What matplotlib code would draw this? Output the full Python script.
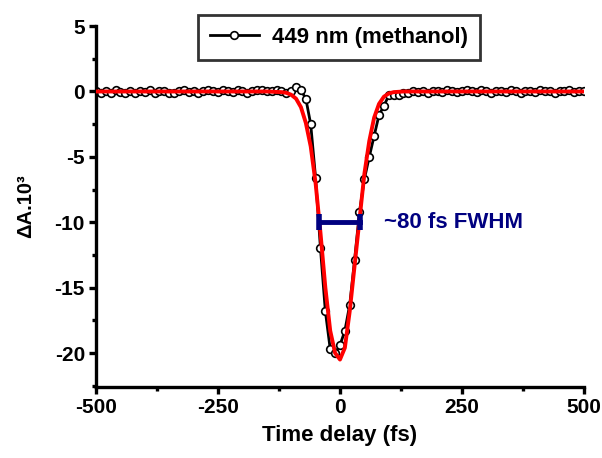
import numpy as np
import matplotlib
matplotlib.use("Agg")
import matplotlib.pyplot as plt
from matplotlib.ticker import MultipleLocator

plt.rcParams['font.family'] = ['Liberation Sans', 'DejaVu Sans']
plt.rcParams['font.weight'] = 'bold'
plt.rcParams['axes.unicode_minus'] = False

# measured transient (10 fs steps)
delay = np.arange(-500, 510, 10)
signal = [0.05, -0.1, 0.0, -0.15, 0.1, -0.05, -0.1, 0.05, -0.15, 0.0,
          -0.05, 0.1, -0.1, 0.0, 0.05, -0.1, -0.15, 0.0, 0.1, -0.05,
          0.05, -0.1, 0.0, 0.15, 0.05, -0.05, 0.1, 0.0, -0.05, 0.1,
          0.05, -0.1, 0.0, 0.1, 0.15, 0.05, 0.0, 0.1, 0.05, -0.1,
          # -100 .. 130 fs
          0.05, 0.35, 0.1, -0.55, -2.5, -6.6, -12.0, -16.8, -19.7, -20.0,
          -19.4, -18.3, -16.3, -12.85, -9.2, -6.7, -5.0, -3.4, -1.8, -1.1,
          -0.3, -0.25, -0.3, -0.15,
          # 140 .. 500 fs
          -0.1, 0.0, -0.05, 0.05, -0.1, 0.0, 0.05, -0.05, 0.1, 0.0,
          -0.05, 0.05, 0.15, 0.0, -0.05, 0.1, 0.05, -0.1, 0.0, 0.05,
          -0.05, 0.1, 0.0, -0.1, 0.05, 0.0, -0.05, 0.1, 0.05, 0.0,
          -0.1, 0.05, 0.0, 0.1, -0.05, 0.0, 0.05]

# fitted curve (red)
fit_t = [-500, -150, -120, -110, -100, -90, -80, -70, -60, -50, -40, -30, -20,
         -10, 0, 10, 20, 30, 40, 50, 60, 70, 80, 90, 100, 110, 130, 500]
fit_y = [0, 0, -0.05, -0.1, -0.25, -0.55, -1.2, -2.4, -4.2, -7.0, -10.8, -15.0,
         -18.3, -20.0, -20.5, -19.6, -16.8, -13.3, -9.8, -6.3, -3.8, -2.0,
         -0.95, -0.4, -0.15, -0.05, 0, 0]

fwhm_t = [-43, 41]
fwhm_y = [-10, -10]

fig = plt.figure(figsize=(6.02, 4.58), dpi=100)
ax = fig.add_axes([0.1595, 0.155, 0.8105, 0.788])

ax.plot(delay, signal, color='black', linewidth=2, marker='o', markersize=5.5,
        markerfacecolor='white', markeredgecolor='black', markeredgewidth=1.2,
        label='449 nm (methanol)', zorder=2)
ax.plot(fit_t, fit_y, color='red', linewidth=2.8, zorder=3)
ax.plot(fwhm_t, fwhm_y, color='#000080', linewidth=3.5, marker='|',
        markersize=11, markeredgewidth=4, zorder=4)
ax.text(90, -10, '~80 fs FWHM', color='#000080', fontsize=16,
        fontweight='bold', va='center', ha='left')

ax.set_xlim(-500, 500)
ax.set_ylim(-22.6, 5)
ax.xaxis.set_major_locator(MultipleLocator(250))
ax.xaxis.set_minor_locator(MultipleLocator(125))
ax.yaxis.set_major_locator(MultipleLocator(5))
ax.yaxis.set_minor_locator(MultipleLocator(2.5))

for s in ['top', 'right']:
    ax.spines[s].set_visible(False)
for s in ['left', 'bottom']:
    ax.spines[s].set_linewidth(2.4)
ax.tick_params(which='major', length=5, width=2.4, labelsize=15, pad=3)
ax.tick_params(which='minor', length=3, width=2.4)
for lbl in ax.get_xticklabels() + ax.get_yticklabels():
    lbl.set_fontweight('bold')

ax.set_xlabel('Time delay (fs)', fontsize=16, fontweight='bold', labelpad=6)
ax.set_ylabel('ΔA.10³', fontsize=14.5, fontweight='bold', labelpad=14)

leg = fig.legend(loc='upper center', bbox_to_anchor=(0.563, 0.968),
                 frameon=True, fancybox=False, handlelength=2.2,
                 borderpad=0.55, borderaxespad=0, handletextpad=0.6,
                 prop={'weight': 'bold', 'size': 16})
leg.get_frame().set_edgecolor('black')
leg.get_frame().set_linewidth(2)

fig.savefig('out.png', dpi=100)
